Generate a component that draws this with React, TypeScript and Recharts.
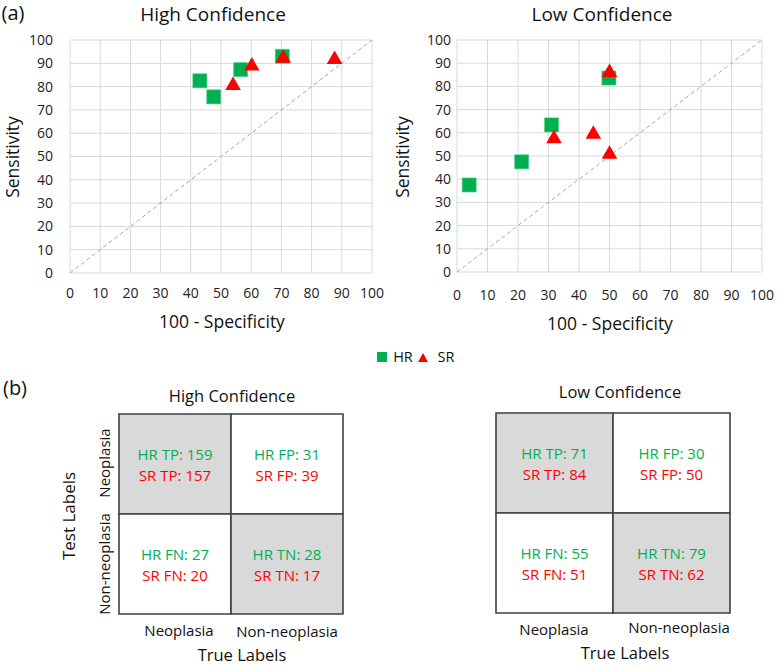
import React from 'react'
import {
  ScatterChart,
  Scatter,
  XAxis,
  YAxis,
  CartesianGrid,
  ReferenceLine,
  ReferenceArea,
  Symbols,
} from 'recharts'

// ---- data ----
const AXIS_TICKS = [0, 10, 20, 30, 40, 50, 60, 70, 80, 90, 100]

// (a) High Confidence: x = 100 - specificity, y = sensitivity
const highHrX = [43, 47.6, 56.5, 70.3]
const highHrY = [82.5, 75.6, 87.3, 93]
const highSrX = [54, 60.2, 70.6, 87.6]
const highSrY = [80.5, 88.8, 92.2, 91.6]

// (a) Low Confidence
const lowHrX = [4, 21.2, 31, 49.8]
const lowHrY = [37.5, 47.5, 63.4, 83.6]
const lowSrX = [31.8, 44.7, 50, 50]
const lowSrY = [57.4, 59.4, 50.8, 86]

// (b) confusion matrices, order: TP, FP, FN, TN
const CELL_NAMES = ['TP', 'FP', 'FN', 'TN']
const CELL_X = [0.5, 1.5, 0.5, 1.5]
const CELL_Y = [1.5, 1.5, 0.5, 0.5]
const CELL_SHADED = [true, false, false, true]
const highHrCounts = [159, 31, 27, 28]
const highSrCounts = [157, 39, 20, 17]
const lowHrCounts = [71, 30, 55, 79]
const lowSrCounts = [84, 50, 51, 62]

const GREEN = '#00B050'
const RED = '#FF0000'
const FONT = '"Open Sans", "Noto Sans", sans-serif'

const toPoints = (xs: number[], ys: number[]) => xs.map((x, i) => ({ x, y: ys[i] }))

const SquareShape = (p: any) => (
  <Symbols cx={p.cx} cy={p.cy} type="square" size={200} fill={GREEN} stroke="#5fd08f" strokeWidth={0.6} />
)
const TriangleShape = (p: any) => (
  <Symbols cx={p.cx} cy={p.cy} type="triangle" size={105} fill={RED} />
)

function Txt({ x, y, size, children, rotate = false, color = '#111' }: any) {
  return (
    <div
      style={{
        position: 'absolute',
        left: x,
        top: y,
        transform: `translate(-50%, -50%)${rotate ? ' rotate(-90deg)' : ''}`,
        fontFamily: FONT,
        fontSize: size,
        lineHeight: 1,
        whiteSpace: 'nowrap',
        color,
      }}
    >
      {children}
    </div>
  )
}

type ScatterProps = {
  left: number
  width: number
  yWidth: number
  right: number
  xHeight: number
  xTickMargin: number
  yTickMargin: number
  hr: { x: number; y: number }[]
  sr: { x: number; y: number }[]
}

function ScatterPanel({ left, width, yWidth, right, xHeight, xTickMargin, yTickMargin, hr, sr }: ScatterProps) {
  const tickStyle = { fill: '#222', fontSize: 14, fontFamily: FONT }
  return (
    <div style={{ position: 'absolute', left, top: 0 }}>
      <ScatterChart width={width} height={340} margin={{ top: 40, right, bottom: 0, left: 0 }}>
        <CartesianGrid stroke="#D9D9D9" strokeWidth={1} />
        <XAxis
          type="number"
          dataKey="x"
          domain={[0, 100]}
          ticks={AXIS_TICKS}
          interval={0}
          height={xHeight}
          axisLine={false}
          tickLine={false}
          tickMargin={xTickMargin}
          tick={tickStyle}
        />
        <YAxis
          type="number"
          dataKey="y"
          domain={[0, 100]}
          ticks={AXIS_TICKS}
          interval={0}
          width={yWidth}
          axisLine={false}
          tickLine={false}
          tickMargin={yTickMargin}
          tick={tickStyle}
        />
        <ReferenceLine
          segment={[{ x: 0, y: 0 }, { x: 100, y: 100 }]}
          stroke="#A6A6A6"
          strokeWidth={1}
          strokeDasharray="4 3"
        />
        <Scatter data={hr} shape={SquareShape} isAnimationActive={false} />
        <Scatter data={sr} shape={TriangleShape} isAnimationActive={false} />
      </ScatterChart>
    </div>
  )
}

const CellText = (p: any) => {
  const d = p.payload
  return (
    <g fontFamily={FONT} fontSize={15} textAnchor="middle">
      <text x={p.cx} y={p.cy - 10} dominantBaseline="central" fill={GREEN}>{d.hr}</text>
      <text x={p.cx} y={p.cy + 11} dominantBaseline="central" fill={RED}>{d.sr}</text>
    </g>
  )
}

function MatrixPanel({ left, top, width, height, hrCounts, srCounts }: any) {
  const cells = CELL_NAMES.map((name, i) => ({
    x: CELL_X[i],
    y: CELL_Y[i],
    shaded: CELL_SHADED[i],
    hr: `HR ${name}: ${hrCounts[i]}`,
    sr: `SR ${name}: ${srCounts[i]}`,
  }))
  return (
    <div style={{ position: 'absolute', left: left - 2, top: top - 2 }}>
      <ScatterChart width={width + 4} height={height + 4} margin={{ top: 2, right: 2, bottom: 2, left: 2 }}>
        <XAxis type="number" dataKey="x" domain={[0, 2]} hide />
        <YAxis type="number" dataKey="y" domain={[0, 2]} hide />
        {cells.map((c, i) => (
          <ReferenceArea
            key={i}
            x1={c.x - 0.5}
            x2={c.x + 0.5}
            y1={c.y - 0.5}
            y2={c.y + 0.5}
            fill={c.shaded ? '#D9D9D9' : '#FFFFFF'}
            fillOpacity={1}
            stroke="#404040"
            strokeWidth={1.6}
          />
        ))}
        <Scatter data={cells} shape={CellText} isAnimationActive={false} />
      </ScatterChart>
    </div>
  )
}

export default function App() {
  return (
    <div style={{ position: 'absolute', left: 0, top: 0, width: 778, height: 667, background: '#fff', overflow: 'hidden' }}>
      {/* (a) scatter plots */}
      <Txt x={13} y={13} size={20}>(a)</Txt>
      <Txt x={213} y={14} size={19}>High Confidence</Txt>
      <Txt x={602} y={14} size={19}>Low Confidence</Txt>

      <ScatterPanel
        left={0} width={390} yWidth={70} right={18} xHeight={67}
        xTickMargin={9} yTickMargin={11}
        hr={toPoints(highHrX, highHrY)} sr={toPoints(highSrX, highSrY)}
      />
      <ScatterPanel
        left={390} width={388} yWidth={67} right={16} xHeight={68}
        xTickMargin={12} yTickMargin={0}
        hr={toPoints(lowHrX, lowHrY)} sr={toPoints(lowSrX, lowSrY)}
      />

      <Txt x={13} y={157} size={17.5} rotate>Sensitivity</Txt>
      <Txt x={403} y={157} size={17.5} rotate>Sensitivity</Txt>
      <Txt x={222} y={322} size={17.5}>100 - Specificity</Txt>
      <Txt x={610} y={324} size={17.5}>100 - Specificity</Txt>

      {/* legend */}
      <svg style={{ position: 'absolute', left: 377, top: 351 }} width={60} height={12}>
        <rect x={0} y={1} width={10} height={10} fill={GREEN} />
        <polygon points="46,2 51,11 41,11" fill={RED} />
      </svg>
      <Txt x={403} y={357} size={14.5}>HR</Txt>
      <Txt x={446} y={357} size={14.5}>SR</Txt>

      {/* (b) confusion matrices */}
      <Txt x={15} y={388} size={20}>(b)</Txt>
      <Txt x={232} y={396} size={16.5}>High Confidence</Txt>
      <Txt x={620} y={392} size={16.5}>Low Confidence</Txt>

      <MatrixPanel left={119} top={414} width={224} height={200} hrCounts={highHrCounts} srCounts={highSrCounts} />
      <MatrixPanel left={496} top={413} width={234} height={200} hrCounts={lowHrCounts} srCounts={lowSrCounts} />

      <Txt x={104} y={463} size={15} rotate>Neoplasia</Txt>
      <Txt x={104} y={564} size={15} rotate>Non-neoplasia</Txt>
      <Txt x={68} y={516} size={17} rotate>Test Labels</Txt>

      <Txt x={179} y={630} size={15}>Neoplasia</Txt>
      <Txt x={287} y={631} size={15}>Non-neoplasia</Txt>
      <Txt x={242} y={655} size={16.5}>True Labels</Txt>

      <Txt x={554} y={629} size={15}>Neoplasia</Txt>
      <Txt x={679} y={627} size={15}>Non-neoplasia</Txt>
      <Txt x={625} y={653} size={16.5}>True Labels</Txt>
    </div>
  )
}
